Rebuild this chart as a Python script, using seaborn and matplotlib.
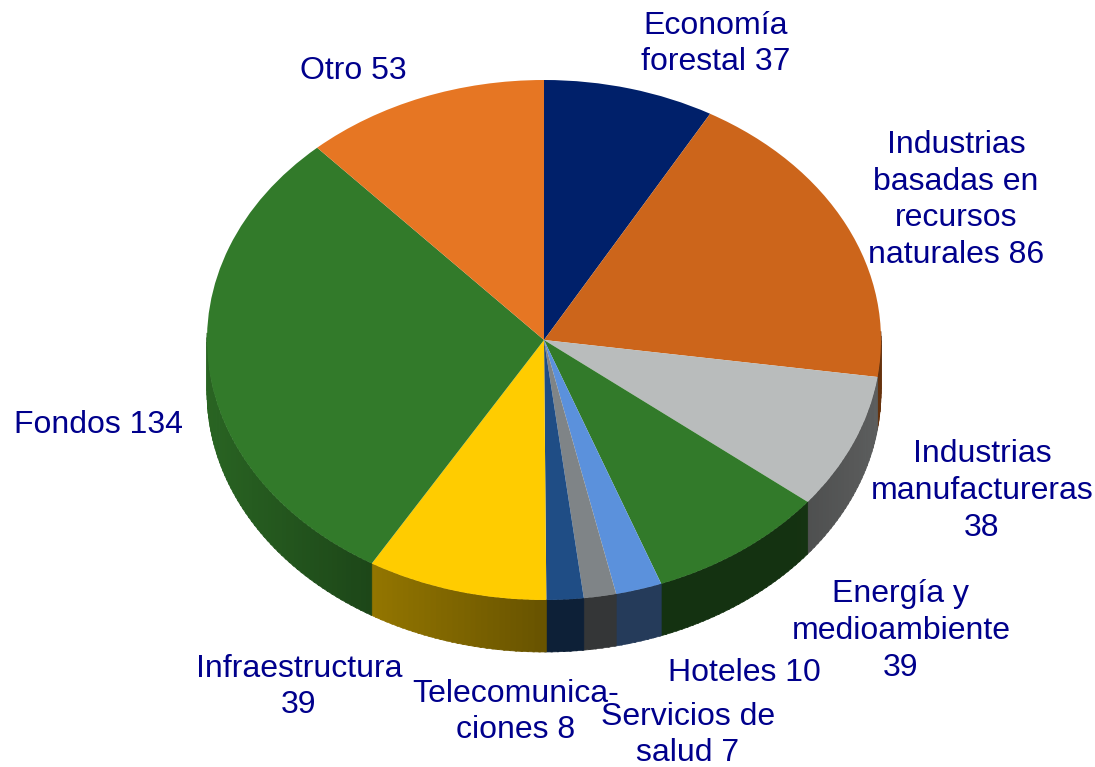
import numpy as np
import matplotlib
matplotlib.use("Agg")
import matplotlib.pyplot as plt
import matplotlib.colors as mcolors
import seaborn as sns

# sectors, clockwise from 12 o'clock
sectors = ["Economía forestal", "Industrias basadas", "Industrias manufactureras",
           "Energía y medioambiente", "Hoteles", "Servicios de salud",
           "Telecomunicaciones", "Infraestructura", "Fondos", "Otro"]
values = [37, 86, 38, 39, 10, 7, 8, 39, 134, 53]
colors = ["#00206a", "#cc651b", "#b9bcbc", "#327a2a", "#5b91dc", "#7f8487",
          "#1f4d85", "#ffcc00", "#327a2a", "#e67623"]

labels = ["Economía\nforestal 37", "Industrias\nbasadas en\nrecursos\nnaturales 86",
          "Industrias\nmanufactureras\n38", "Energía y\nmedioambiente\n39",
          "Hoteles 10", "Servicios de\nsalud 7", "Telecomunica-\nciones 8",
          "Infraestructura\n39", "Fondos 134", "Otro 53"]
label_x = [716, 956, 982, 901, 744, 688, 516, 299, 98, 353]
label_y = [44, 200, 491, 631, 673, 735, 712, 687, 425, 71]

W, H = 1095, 767
cx, cy, rx, ry, depth = 544, 340, 337, 260, 52

sns.set_theme(style="white")
plt.rcParams["font.family"] = ["Liberation Sans", "DejaVu Sans"]

fig = plt.figure(figsize=(W / 100, H / 100), dpi=100)
ax = fig.add_axes([0, 0, 1, 1])

# side wall first, thin strips, lit from the left
d = depth / ry
edges = 90 - np.cumsum([0] + values) / sum(values) * 360
for i, col in enumerate(colors):
    a0, a1 = edges[i], edges[i + 1]
    ang = np.linspace(a0, a1, max(int(a0 - a1), 2) + 1)
    rgb = np.array(mcolors.to_rgb(col))
    for j in range(len(ang) - 1):
        t0, t1 = np.radians(ang[j]), np.radians(ang[j + 1] - 0.3)
        if np.sin(t0) > 0.02 and np.sin(t1) > 0.02:
            continue
        shade = np.interp(np.cos(t0), [-1, -0.51, 0, 0.75, 1], [0.82, 0.58, 0.41, 0.41, 0.5])
        xs = [np.cos(t0), np.cos(t1), np.cos(t1), np.cos(t0)]
        ys = [np.sin(t0), np.sin(t1), np.sin(t1) - d, np.sin(t0) - d]
        ax.fill(xs, ys, color=rgb * shade, lw=0.5)

# top face
ax.pie(values, colors=colors, startangle=90, counterclock=False, radius=1,
       wedgeprops={"linewidth": 0})
ax.set_aspect("auto")
ax.set_xlim(-cx / rx, (W - cx) / rx)
ax.set_ylim(-(H - cy) / ry, cy / ry)
ax.axis("off")

for txt, x, y in zip(labels, label_x, label_y):
    ax.text((x - cx) / rx, (cy - y) / ry, txt, color="#00008c", fontsize=23,
            ha="center", va="center", linespacing=1.3)

fig.savefig("out.png", dpi=100)
